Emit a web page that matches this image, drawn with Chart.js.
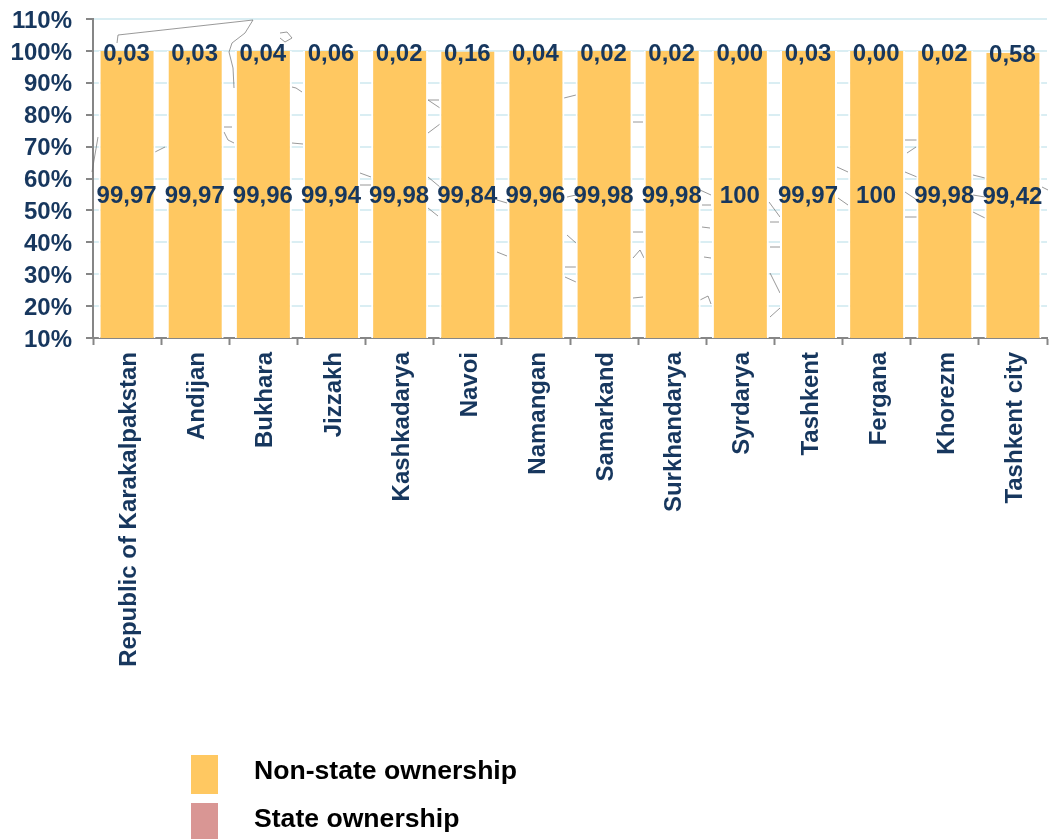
<!DOCTYPE html>
<html><head><meta charset="utf-8">
<style>html,body{margin:0;padding:0;background:#fff}canvas{display:block}</style>
<script src="https://cdn.jsdelivr.net/npm/chart.js@4/dist/chart.umd.min.js"></script>
</head><body>
<canvas id="c" width="1056" height="839"></canvas>
<script>
const categories=["Republic of Karakalpakstan","Andijan","Bukhara","Jizzakh","Kashkadarya","Navoi","Namangan","Samarkand","Surkhandarya","Syrdarya","Tashkent","Fergana","Khorezm","Tashkent city"];
const nonState=[99.97,99.97,99.96,99.94,99.98,99.84,99.96,99.98,99.98,100,99.97,100,99.98,99.42];
const state=[0.03,0.03,0.04,0.06,0.02,0.16,0.04,0.02,0.02,0.00,0.03,0.00,0.02,0.58];
const NAVY="#17375e",FONT='"Liberation Sans", Arial, sans-serif';
const STATE_SWATCH="#d99694";
// faint remains of the map image behind the plot (decoration only, not data)
const mapTraces=[
 [[92,172],[98,137]],[[117,43],[118,35],[253,20],[245,33],[232,43],[229,52],[231,60],[233,68],[234,88]],
 [[280,33],[287,32],[292,38],[285,42],[280,38]],[[292,87],[296,88],[302,92]],
 [[224,127],[232,127]],[[224,132],[228,140],[234,143]],[[292,143],[303,144]],[[155,152],[165,147]],
 [[360,173],[371,177]],[[360,185],[371,185]],
 [[428,100],[440,108]],[[428,100],[439,100]],[[428,133],[440,124]],[[428,177],[440,187]],[[428,208],[438,216]],
 [[497,252],[507,256]],[[497,200],[507,203]],[[564,98],[576,95]],[[567,235],[576,243]],[[567,197],[576,195]],
 [[565,267],[576,267]],[[565,277],[576,282]],[[633,122],[643,122]],[[633,232],[643,232]],
 [[633,258],[640,250],[644,258]],[[633,298],[643,297]],
 [[700,190],[711,195]],[[702,205],[711,205]],[[702,227],[710,228]],[[704,257],[711,258]],[[700,300],[708,296],[711,304]],
 [[769,202],[780,217]],[[770,222],[779,222]],[[770,247],[780,247]],[[770,273],[776,285],[780,293]],[[770,317],[780,308]],
 [[837,167],[848,172]],[[838,198],[848,205]],[[905,140],[917,140]],[[907,153],[916,147]],[[905,172],[917,177]],
 [[905,192],[917,200]],[[905,217],[917,217]],[[973,175],[985,178]],[[973,195],[985,197]],[[973,212],[985,218]],[[1042,187],[1048,190]]
];
const fmtNon=v=>v===100?"100":v.toFixed(2).replace(".",",");
const fmtState=v=>v.toFixed(2).replace(".",",");
const nudgePlugin={id:"nudgeTickLabels",beforeDraw(ch){
  if(ch.$nudged)return;ch.$nudged=true;
  ch.scales.y.getLabelItems().forEach(it=>{it.options.translation=[it.options.translation[0],it.options.translation[1]+2];});
  ch.scales.x.getLabelItems().forEach(it=>{it.options.translation=[it.options.translation[0]+2.5,it.options.translation[1]+1];});
}};
const mapPlugin={id:"mapTraces",beforeDatasetsDraw(ch){
  const c=ch.ctx;c.save();c.strokeStyle="rgba(110,110,110,0.7)";c.lineWidth=1;
  mapTraces.forEach(t=>{c.beginPath();t.forEach((p,i)=>i?c.lineTo(p[0],p[1]):c.moveTo(p[0],p[1]));c.stroke();});
  c.restore();
}};
const labelsPlugin={id:"labels",afterDatasetsDraw(ch){
  const c=ch.ctx,x=ch.scales.x,y=ch.scales.y;
  c.save();c.font="bold 24px "+FONT;c.fillStyle=NAVY;c.textAlign="center";c.textBaseline="middle";
  categories.forEach((_,i)=>{
    const px=x.getPixelForValue(i)-0.5;
    c.fillText(fmtNon(nonState[i]),px,(y.getPixelForValue(10)+y.getPixelForValue(nonState[i]))/2+2);
    c.fillText(fmtState(state[i]),px,y.getPixelForValue(nonState[i])+3);
  });
  c.restore();
}};
const legendPlugin={id:"sideLegend",afterDraw(ch){
  const c=ch.ctx;c.save();c.font="bold 26.6px "+FONT;c.textBaseline="middle";c.textAlign="left";
  const rows=[[755,39,772],[803,36,820]];
  ch.data.datasets.forEach((d,i)=>{
    const r=rows[i];c.fillStyle=d.swatch;c.fillRect(191,r[0],27,r[1]);
    c.fillStyle="#000";c.fillText(d.label,254,r[2]);
  });
  c.restore();
}};
new Chart(document.getElementById("c"),{
  type:"bar",
  data:{labels:categories,datasets:[
    {label:"Non-state ownership",data:nonState,swatch:"#ffc861",backgroundColor:"#ffc861",stack:"a",borderColor:"#ffffff",borderWidth:{left:2,right:2,top:0,bottom:0}},
    {label:"State ownership",data:state,swatch:STATE_SWATCH,backgroundColor:"rgba(0,0,0,0)",stack:"a"}
  ]},
  options:{
    responsive:false,animation:false,
    layout:{padding:{top:19,right:9,left:0,bottom:0}},
    plugins:{legend:{display:false},tooltip:{enabled:false}},
    datasets:{bar:{categoryPercentage:0.836,barPercentage:1}},
    scales:{
      x:{stacked:true,
        grid:{display:true,drawOnChartArea:false,drawTicks:true,tickLength:7,tickColor:"#868686",tickWidth:2,offset:true},
        border:{color:"#868686",width:2},
        ticks:{minRotation:90,maxRotation:90,autoSkip:false,color:NAVY,font:{family:FONT,size:24,weight:"bold"},padding:6},
        afterFit(s){s.height=501;s.paddingLeft=0;s.paddingRight=0}},
      y:{stacked:true,min:10,max:110,
        grid:{color:"#daeef3",lineWidth:2,tickColor:"#868686",tickWidth:2,tickLength:7},
        border:{color:"#868686",width:2},
        ticks:{stepSize:10,color:NAVY,font:{family:FONT,size:24,weight:"bold"},padding:14,callback:v=>v+"%"},
        afterFit(s){s.width=93;s.paddingTop=0;s.paddingBottom=0}}
    }
  },
  plugins:[nudgePlugin,mapPlugin,labelsPlugin,legendPlugin]
});
</script>
</body></html>
